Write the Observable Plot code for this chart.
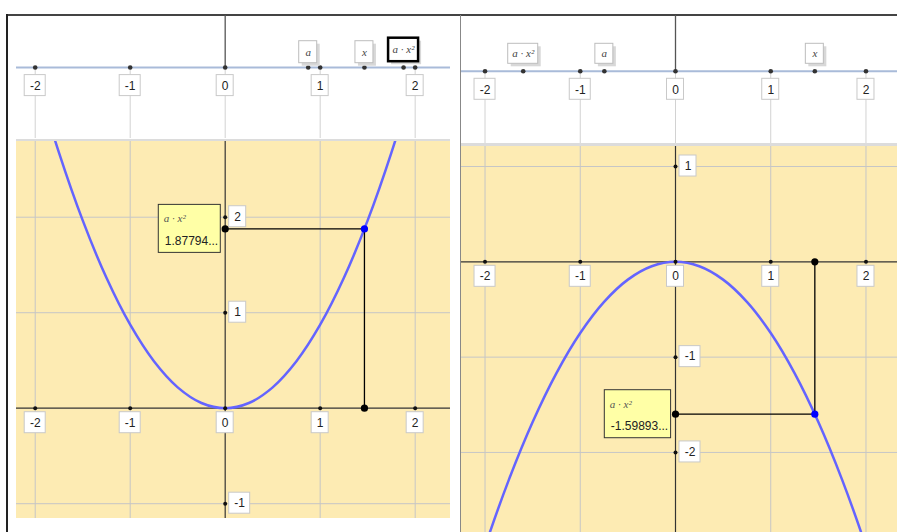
<!DOCTYPE html>
<html><head><meta charset="utf-8">
<script src="https://cdn.jsdelivr.net/npm/d3@7"></script>
<script src="https://cdn.jsdelivr.net/npm/@observablehq/plot@0.6"></script>
<style>
body{margin:0;background:#fff;}
#root{position:relative;width:904px;height:532px;overflow:hidden;font-family:"Liberation Sans",Arial,sans-serif;}
.abs{position:absolute;}
.abs svg{display:block;}
</style></head><body><div id="root"></div>
<script>
// ---------- data ----------
const tickValues = [-2, -1, 0, 1, 2];
const tickLabels = ["-2", "-1", "0", "1", "2"];
const leftYTicks = [-1, 1, 2];
const leftYLabels = ["-1", "1", "2"];
const rightYTicks = [-2, -1, 1];
const rightYLabels = ["-2", "-1", "1"];
const varNames = ["a", "x", "a · x²"];
const leftVarValues = [0.874, 1.466, 1.878];
const rightVarValues = [-0.747, 1.463, -1.599];
const leftX = 1.466, leftValue = 1.87794, leftValueText = "1.87794...";
const rightX = 1.463, rightValue = -1.59893, rightValueText = "-1.59893...";
const curveX = [-2.5, -2.25, -2, -1.75, -1.5, -1.25, -1, -0.75, -0.5, -0.25, 0, 0.25, 0.5, 0.75, 1, 1.25, 1.5, 1.75, 2, 2.25, 2.5];
const leftCurveY = [5.4625, 4.4246, 3.496, 2.6766, 1.9665, 1.3656, 0.874, 0.4916, 0.2185, 0.0546, 0, 0.0546, 0.2185, 0.4916, 0.874, 1.3656, 1.9665, 2.6766, 3.496, 4.4246, 5.4625];
const rightCurveY = [-4.6688, -3.7817, -2.988, -2.2877, -1.6808, -1.1672, -0.747, -0.4202, -0.1868, -0.0467, 0, -0.0467, -0.1868, -0.4202, -0.747, -1.1672, -1.6808, -2.2877, -2.988, -3.7817, -4.6688];

// ---------- helpers ----------
const SANS = "Liberation Sans, Arial, sans-serif";
const SERIF = "Liberation Serif, DejaVu Serif, serif";
const root = document.getElementById("root");
function place(el, left, top) {
  const d = document.createElement("div");
  d.className = "abs"; d.style.left = left + "px"; d.style.top = top + "px";
  d.appendChild(el); root.appendChild(d);
}
function bar(left, top, w, h, color) {
  const d = document.createElement("div");
  d.className = "abs";
  Object.assign(d.style, {left: left + "px", top: top + "px", width: w + "px", height: h + "px", background: color});
  root.appendChild(d);
}
const labelW = s => s.length > 1 ? 21 : 17;

// boxes anchored at data point, offsets in px: left l, right r, top t, bottom b
function boxes(data, {x, y, l, r, t, b, ...style}) {
  return Plot.rect(data, {x1: x, x2: x, y1: y, y2: y, insetLeft: l, insetRight: -r, insetTop: t, insetBottom: -b, ...style});
}

// horizontal-axis tick labels (boxes below the axis)
function xLabels(values, labels, t, b, textDy) {
  const data = values.map((v, i) => ({v, s: labels[i], w: labelW(labels[i])}));
  const marks = [];
  for (const w of new Set(data.map(d => d.w))) {
    marks.push(boxes(data.filter(d => d.w === w), {x: "v", y: () => 0, l: -w / 2, r: w / 2, t, b, fill: "white", stroke: "#c9c9c9"}));
  }
  marks.push(Plot.text(data, {x: "v", y: () => 0, text: "s", dy: textDy, fontSize: 12, fill: "#222", fontFamily: SANS}));
  return marks;
}
// vertical-axis tick labels (boxes right of the axis)
function yLabels(values, labels) {
  const data = values.map((v, i) => ({v, s: labels[i], w: labelW(labels[i])}));
  const marks = [];
  for (const w of new Set(data.map(d => d.w))) {
    marks.push(boxes(data.filter(d => d.w === w), {x: () => 0, y: "v", l: 4, r: 4 + w, t: -11, b: 10, fill: "white", stroke: "#c9c9c9"}));
    marks.push(Plot.text(data.filter(d => d.w === w), {x: () => 0, y: "v", text: "s", dx: 4 + w / 2, dy: -0.5, fontSize: 12, fill: "#222", fontFamily: SANS}));
  }
  return marks;
}

// ---------- number line ----------
function numberLine({width, height, linePx, domain, values, selected, boxT, boxB}) {
  const yMin = -(height - linePx) / linePx;
  const vars = varNames.map((n, i) => ({n, v: values[i], w: n.length > 1 ? 30 : 18, sel: n === selected}));
  const marks = [
    Plot.ruleX(tickValues, {y1: 0, y2: yMin, stroke: "#d2d2d2", strokeWidth: 1}),
    Plot.ruleX([0], {y1: 0, y2: 1, stroke: "#555", strokeWidth: 1.3}),
    Plot.ruleY([0], {stroke: "#a9bbd9", strokeWidth: 2}),
    ...xLabels(tickValues, tickLabels, 7.6, 28.6, 18.5),
    Plot.dot(tickValues, {x: d => d, y: () => 0, r: 2.3, fill: "#333"}),
    Plot.dot(vars, {x: "v", y: () => 0, r: 2.3, fill: "#333"})
  ];
  for (const d of vars) {
    const w = d.w;
    const t = d.sel ? boxT - 3 : boxT, b = d.sel ? boxB - 1.5 : boxB;
    marks.push(boxes([d], {x: "v", y: () => 0, l: -w / 2 + 3, r: w / 2 + 3, t: t + 3, b: b + 3, fill: "#d8d8d8"}));
    marks.push(boxes([d], {x: "v", y: () => 0, l: -w / 2, r: w / 2, t, b, fill: "white", stroke: d.sel ? "#000" : "#bdbdbd", strokeWidth: d.sel ? 2.5 : 1}));
    marks.push(Plot.text([d], {x: "v", y: () => 0, text: "n", dy: (t + b) / 2, fontSize: 11, fontStyle: "italic", fill: "#444", fontFamily: SERIF}));
  }
  return Plot.plot({
    width, height, margin: 0,
    x: {domain, axis: null},
    y: {domain: [yMin, 1], axis: null},
    style: {background: "none", overflow: "visible"},
    marks
  });
}

// ---------- graph ----------
function graph({width, height, xDomain, yDomain, yTicks, yTickLabels, curveY, px, value, valueText, tipL}) {
  const curve = curveX.map((x, i) => ({x, y: curveY[i]}));
  const tip = [{x: 0, y: value}];
  return Plot.plot({
    width, height, margin: 0,
    x: {domain: xDomain, axis: null},
    y: {domain: yDomain, axis: null},
    style: {background: "#fdebb3", overflow: "hidden"},
    marks: [
      Plot.ruleX(tickValues.filter(v => v !== 0), {stroke: "#c6c6c6", strokeWidth: 1}),
      Plot.ruleY(yTicks, {stroke: "#c6c6c6", strokeWidth: 1}),
      Plot.ruleX([0], {stroke: "#333", strokeWidth: 1.2}),
      Plot.ruleY([0], {stroke: "#333", strokeWidth: 1.2}),
      Plot.line(curve, {x: "x", y: "y", stroke: "#6464ff", strokeWidth: 2.5, curve: "catmull-rom", clip: true}),
      Plot.ruleX([px], {y1: 0, y2: value, stroke: "#000", strokeWidth: 1.3}),
      Plot.ruleY([value], {x1: 0, x2: px, stroke: "#000", strokeWidth: 1.3}),
      Plot.dot(tickValues, {x: d => d, y: () => 0, r: 2, fill: "#111"}),
      Plot.dot(yTicks, {x: () => 0, y: d => d, r: 2, fill: "#111"}),
      ...xLabels(tickValues, tickLabels, 4, 25, 14.5),
      ...yLabels(yTicks, yTickLabels),
      Plot.dot([{x: px, y: 0}, {x: 0, y: value}], {x: "x", y: "y", r: 3.6, fill: "#000"}),
      Plot.dot([{x: px, y: value}], {x: "x", y: "y", r: 3.6, fill: "#0000ff"}),
      boxes(tip, {x: "x", y: "y", l: tipL, r: -4.4, t: -24, b: 24, fill: "#ffffa6", stroke: "#333", strokeWidth: 1}),
      Plot.text(tip, {x: "x", y: "y", text: () => "a · x²", dx: tipL + 5, dy: -10, textAnchor: "start", fontSize: 11, fontStyle: "italic", fill: "#555", fontFamily: SERIF}),
      Plot.text(tip, {x: "x", y: "y", text: () => valueText, dx: tipL + 6, dy: 12, textAnchor: "start", fontSize: 12, fill: "#222", fontFamily: SANS})
    ]
  });
}

// ---------- layout ----------
// panel frames
bar(7, 14, 890, 1.5, "#444");
bar(6, 14, 2, 518, "#222");
bar(460, 15, 1, 517, "#888");

// left panel
place(numberLine({width: 434, height: 123, linePx: 52, domain: [-2.197, 2.372], values: leftVarValues, selected: "a · x²", boxT: -26.3, boxB: -4.3}), 16, 15);
bar(16, 138.5, 434, 2.5, "#dcdcdc");
place(graph({width: 434, height: 377, xDomain: [-2.197, 2.372], yDomain: [-1.155, 2.793], yTicks: leftYTicks, yTickLabels: leftYLabels,
  curveY: leftCurveY, px: leftX, value: leftValue, valueText: leftValueText, tipL: -66.4}), 16, 141);

// right panel
place(numberLine({width: 436, height: 128, linePx: 55.7, domain: [-2.247, 2.331], values: rightVarValues, selected: null, boxT: -27.4, boxB: -7.4}), 461, 15);
bar(461, 143, 436, 3, "#dcdcdc");
place(graph({width: 436, height: 386, xDomain: [-2.247, 2.331], yDomain: [-2.840, 1.210], yTicks: rightYTicks, yTickLabels: rightYLabels,
  curveY: rightCurveY, px: rightX, value: rightValue, valueText: rightValueText, tipL: -70.7}), 461, 146);
</script>
</body></html>
